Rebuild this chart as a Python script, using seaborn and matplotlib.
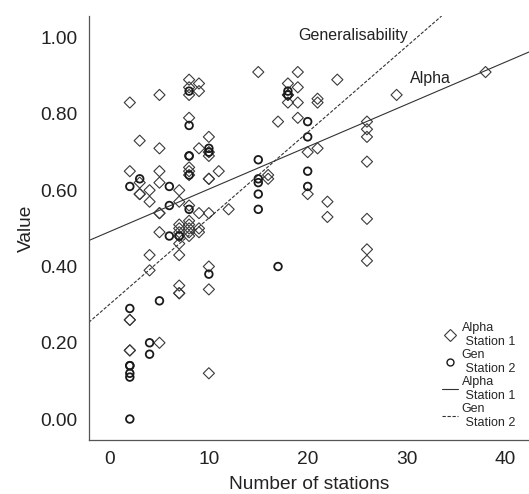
import matplotlib
matplotlib.use("Agg")
import matplotlib.pyplot as plt
from matplotlib.lines import Line2D
import seaborn as sns
import pandas as pd

# ---- data ----
alpha_x = [2, 2, 2, 2, 2, 2,
           3, 3, 3, 3,
           4, 4, 4, 4,
           5, 5, 5, 5, 5, 5, 5, 5,
           7, 7, 7, 7, 7, 7, 7, 7, 7, 7, 7,
           8, 8, 8, 8, 8, 8, 8, 8, 8, 8, 8, 8, 8,
           9, 9, 9, 9, 9, 9,
           10, 10, 10, 10, 10, 10, 10, 10, 10,
           11, 12, 15, 16, 16, 17,
           18, 18, 18, 18,
           19, 19, 19, 19,
           20, 20, 21, 21, 21, 22, 22, 23,
           26, 26, 26, 26, 26, 26, 26,
           29, 38]
alpha_y = [0.83, 0.65, 0.26, 0.26, 0.18, 0.18,
           0.73, 0.62, 0.59, 0.59,
           0.60, 0.57, 0.43, 0.39,
           0.85, 0.71, 0.65, 0.62, 0.54, 0.54, 0.49, 0.20,
           0.60, 0.57, 0.51, 0.50, 0.49, 0.48, 0.46, 0.43, 0.35, 0.33, 0.33,
           0.89, 0.87, 0.85, 0.79, 0.66, 0.65, 0.64, 0.56, 0.52, 0.51, 0.50, 0.49, 0.48,
           0.88, 0.86, 0.71, 0.54, 0.50, 0.49,
           0.74, 0.70, 0.69, 0.63, 0.63, 0.54, 0.40, 0.34, 0.12,
           0.65, 0.55, 0.91, 0.64, 0.63, 0.78,
           0.88, 0.85, 0.85, 0.83,
           0.91, 0.87, 0.83, 0.79,
           0.70, 0.59, 0.84, 0.83, 0.71, 0.57, 0.53, 0.89,
           0.78, 0.76, 0.74, 0.675, 0.525, 0.445, 0.415,
           0.85, 0.91]

gen_x = [2, 2, 2, 2, 2, 2, 2,
         3, 4, 4, 5,
         6, 6, 6, 7,
         8, 8, 8, 8, 8, 8,
         10, 10, 10,
         15, 15, 15, 15, 15,
         17, 18, 18,
         20, 20, 20, 20]
gen_y = [0.61, 0.29, 0.14, 0.14, 0.12, 0.11, 0.00,
         0.63, 0.20, 0.17, 0.31,
         0.61, 0.56, 0.48, 0.48,
         0.86, 0.77, 0.69, 0.69, 0.64, 0.55,
         0.71, 0.70, 0.38,
         0.68, 0.63, 0.62, 0.59, 0.55,
         0.40, 0.86, 0.85,
         0.78, 0.74, 0.65, 0.61]

fit_names = ["Alpha", "Generalisability"]
fit_intercepts = [0.492, 0.302]
fit_slopes = [0.0111, 0.0225]

legend_labels = ["Alpha\n Station 1", "Gen\n Station 2",
                 "Alpha\n Station 1", "Gen\n Station 2"]
x_ticks = [0, 10, 20, 30, 40]
y_ticks = [0.0, 0.2, 0.4, 0.6, 0.8, 1.0]

# ---- figure ----
sns.set_style("white")
plt.rcParams["font.family"] = ["Liberation Sans", "DejaVu Sans"]

fig = plt.figure(figsize=(5.29, 4.94), dpi=100)
ax = fig.add_axes([0.1677, 0.1093, 0.8323, 0.8583])

df_a = pd.DataFrame({"x": alpha_x, "y": alpha_y})
df_g = pd.DataFrame({"x": gen_x, "y": gen_y})

sns.scatterplot(data=df_a, x="x", y="y", ax=ax, marker="D", s=32,
                facecolor="none", edgecolor="#3a3a3a", linewidth=0.8)
sns.scatterplot(data=df_g, x="x", y="y", ax=ax, marker="o", s=30,
                facecolor="none", edgecolor="#1a1a1a", linewidth=1.3)

line_styles = ["-", (0, (3, 1.5))]
for b0, b1, ls in zip(fit_intercepts, fit_slopes, line_styles):
    ax.axline((0, b0), slope=b1, color="#333333", lw=0.8, ls=ls)

ax.text(19.0, 1.007, fit_names[1], fontsize=11.5, va="center", ha="left", color="#222222")
ax.text(30.4, 0.894, fit_names[0], fontsize=11.5, va="center", ha="left", color="#222222")

ax.set_xlim(-2.16, 42.4)
ax.set_ylim(-0.055, 1.057)
ax.set_xticks(x_ticks)
ax.set_xticklabels([str(t) for t in x_ticks])
ax.set_yticks(y_ticks)
ax.set_yticklabels([f"{t:.2f}" for t in y_ticks])
ax.set_xlabel("Number of stations", fontsize=13.8, color="#222222", labelpad=6)
ax.set_ylabel("Value", fontsize=13.8, color="#222222", labelpad=4)
ax.tick_params(axis="both", direction="out", length=4, width=0.8,
               color="#444444", labelsize=13.8, labelcolor="#222222", pad=4)
sns.despine(ax=ax, top=True, right=True)
for sp in ["left", "bottom"]:
    ax.spines[sp].set_color("#555555")
    ax.spines[sp].set_linewidth(0.9)

handles = [
    Line2D([], [], marker="D", ls="none", markersize=6, markerfacecolor="none",
           markeredgecolor="#3a3a3a", markeredgewidth=0.8),
    Line2D([], [], marker="o", ls="none", markersize=5, markerfacecolor="none",
           markeredgecolor="#1a1a1a", markeredgewidth=1.0),
    Line2D([], [], color="#333333", lw=0.8, ls="-"),
    Line2D([], [], color="#333333", lw=0.8, ls=(0, (3, 1.5))),
]
ax.legend(handles, legend_labels, loc="upper left", bbox_to_anchor=(0.79, 0.29),
          frameon=False, fontsize=9, handlelength=1.3, handletextpad=0.3,
          labelspacing=0.1, borderaxespad=0)

fig.savefig("out.png", dpi=100)
